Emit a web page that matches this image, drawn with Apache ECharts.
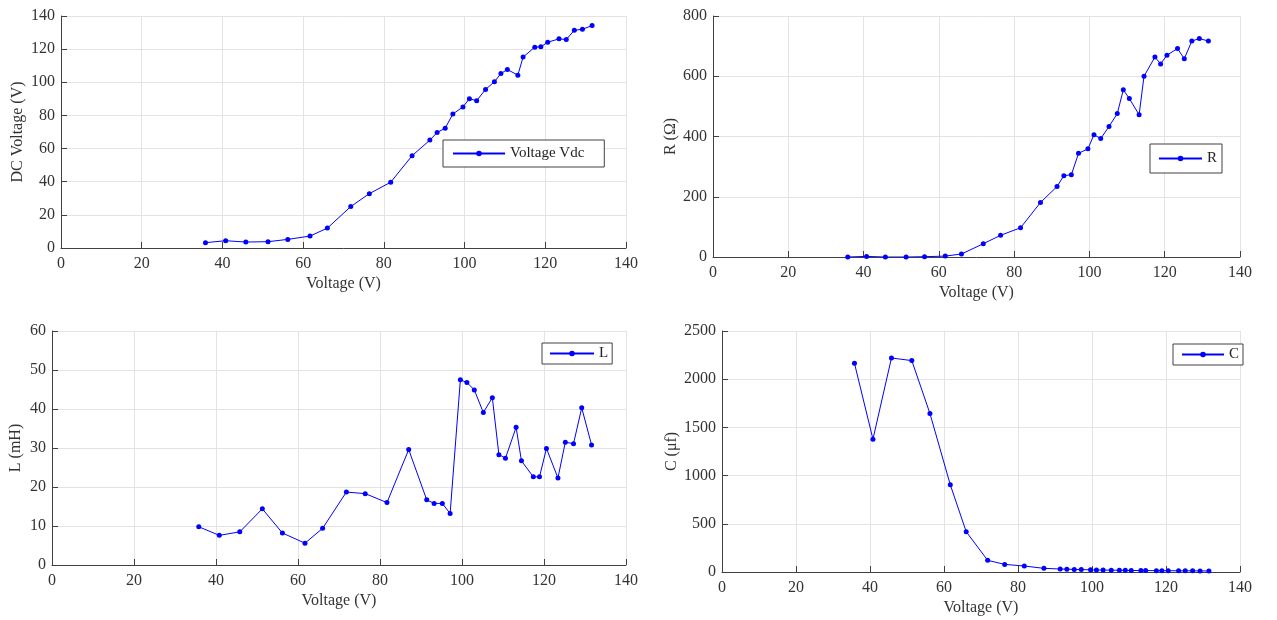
<!DOCTYPE html>
<html>
<head>
<meta charset="utf-8">
<script src="https://cdn.jsdelivr.net/npm/echarts@6/dist/echarts.min.js"></script>
<style>
html,body{margin:0;padding:0;background:#fff;}
#chart{width:1277px;height:620px;}
</style>
</head>
<body>
<div id="chart"></div>
<script>
// Input voltage (V) shared by all four panels
const voltage = [35.8, 40.8, 45.8, 51.3, 56.2, 61.7, 66.0, 71.8, 76.4, 81.7, 87.0, 91.4, 93.2, 95.2, 97.1, 99.6, 101.2, 103.0, 105.2, 107.4, 109.0, 110.6, 113.2, 114.5, 117.4, 118.9, 120.6, 123.4, 125.2, 127.2, 129.2, 131.6];
const vdc = [3.2, 4.4, 3.6, 3.8, 5.2, 7.2, 12.0, 25.0, 32.8, 39.7, 55.7, 65.1, 69.7, 72.3, 80.9, 85.1, 90.1, 88.9, 95.7, 100.3, 105.3, 107.7, 104.3, 115.2, 121.2, 121.4, 124.2, 126.2, 125.8, 131.4, 132.0, 134.2];
const resistance = [0, 2, 0, 0, 1, 3, 10, 44, 72, 97, 181, 234, 270, 273, 344, 359, 406, 393, 433, 476, 555, 526, 472, 600, 664, 641, 670, 692, 658, 717, 725, 717];
const inductance = [9.8, 7.6, 8.5, 14.4, 8.2, 5.6, 9.4, 18.7, 18.3, 16.0, 29.6, 16.7, 15.8, 15.8, 13.2, 47.5, 46.8, 44.9, 39.1, 42.9, 28.3, 27.4, 35.3, 26.7, 22.6, 22.6, 29.9, 22.3, 31.5, 31.1, 40.3, 30.8];
const capacitance = [2165, 1378, 2220, 2193, 1644, 905, 418, 121, 79, 62, 38, 31, 29, 27, 25, 23, 21, 20, 19, 18, 17, 16, 15, 15, 14, 14, 13, 13, 12, 12, 11, 11];

const xTicks = [0, 20, 40, 60, 80, 100, 120, 140];
const panels = [
  {name: 'Voltage Vdc', yName: 'DC Voltage (V)', values: vdc, yMax: 140, yStep: 20},
  {name: 'R', yName: 'R (\u03A9)', values: resistance, yMax: 800, yStep: 200},
  {name: 'L', yName: 'L (mH)', values: inductance, yMax: 60, yStep: 10},
  {name: 'C', yName: 'C (\u03BCf)', values: capacitance, yMax: 2500, yStep: 500}
];

const FONT = 'Liberation Serif';
const grids = [
  {left: 61, top: 16, width: 565, height: 232},
  {left: 713, top: 16, width: 527, height: 241},
  {left: 52, top: 331, width: 574, height: 234},
  {left: 722, top: 331, width: 518, height: 241}
];
const yNameGaps = [35, 33, 28, 40];
const legendCfg = [
  {left: 443, top: 140, itemWidth: 52, padding: [6, 20, 6, 9]},
  {left: 1150, top: 144, itemWidth: 43, padding: [7, 5, 7, 8]},
  {left: 542, top: 343, itemWidth: 44, padding: [3, 4, 3, 7]},
  {left: 1173, top: 344, itemWidth: 42, padding: [3, 4, 3, 8]}
];

const axisCommon = {
  axisLine: {show: true, lineStyle: {color: '#404040', width: 1}},
  axisTick: {show: true, inside: true, length: 6, lineStyle: {color: '#404040'}},
  splitLine: {show: true, lineStyle: {color: '#e3e3e3', width: 1}},
  axisLabel: {fontFamily: FONT, fontSize: 16, color: '#333', formatter: v => String(v)},
  nameTextStyle: {fontFamily: FONT, fontSize: 16, color: '#333'}
};

const option = {
  animation: false,
  backgroundColor: '#fff',
  grid: grids.map(g => Object.assign({containLabel: false}, g)),
  xAxis: panels.map((p, i) => Object.assign({}, axisCommon, {
    type: 'value', gridIndex: i, min: xTicks[0], max: xTicks[xTicks.length - 1], interval: 20,
    name: 'Voltage (V)', nameLocation: 'middle', nameGap: 28,
    axisLabel: Object.assign({}, axisCommon.axisLabel, {margin: 8})
  })),
  yAxis: panels.map((p, i) => Object.assign({}, axisCommon, {
    type: 'value', gridIndex: i, min: 0, max: p.yMax, interval: p.yStep,
    name: p.yName, nameLocation: 'middle', nameGap: yNameGaps[i], nameRotate: 90,
    axisLabel: Object.assign({}, axisCommon.axisLabel, {margin: 6})
  })),
  legend: panels.map((p, i) => ({
    data: [p.name],
    left: legendCfg[i].left, top: legendCfg[i].top,
    orient: 'vertical',
    backgroundColor: '#fff',
    borderColor: '#404040', borderWidth: 1,
    padding: legendCfg[i].padding,
    itemWidth: legendCfg[i].itemWidth, itemHeight: 7, itemGap: 0,
    textStyle: {fontFamily: FONT, fontSize: 15, color: '#222'}
  })),
  series: panels.map((p, i) => ({
    name: p.name, type: 'line', xAxisIndex: i, yAxisIndex: i,
    data: voltage.map((v, k) => [v, p.values[k]]),
    symbol: 'circle', symbolSize: 5, showSymbol: true,
    lineStyle: {color: '#0000ff', width: 1},
    itemStyle: {color: '#0000ff'},
    legendHoverLink: false
  }))
};

const chart = echarts.init(document.getElementById('chart'), null, {renderer: 'canvas'});
chart.setOption(option);
</script>
</body>
</html>
